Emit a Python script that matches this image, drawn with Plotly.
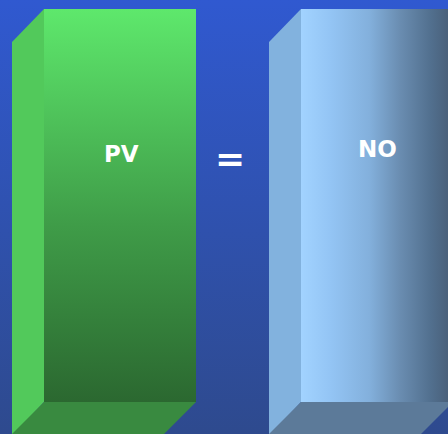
import plotly.graph_objects as go

# Two equal quantities compared side by side
categories = ["PV", "NO"]
values = [100, 100]
operator = "="

W, H = 448, 434
PX_PER_UNIT = 3.93      # vertical scale: data units -> axis units
BOX_LEFT = 44           # x of first box's back wall
BOX_STEP = 257          # distance between boxes
BOX_WIDTH = 152
DEPTH = 32              # oblique depth of the floor / side wall
FLOOR = 32              # y of back wall bottom

back_scales = [
    dict(type="vertical",
         colorscale=[[0, "#2b6830"], [0.45, "#3f9c48"], [1, "#5ee86c"]]),
    dict(type="horizontal",
         colorscale=[[0, "#a2d3ff"], [0.2, "#93c4f4"], [0.45, "#83b0dc"],
                     [0.65, "#6a8db1"], [0.85, "#52708f"], [1, "#475c75"]]),
]
side_colors = ["#52c95b", "#82b2de"]
floor_colors = ["#398a40", "#5c7a99"]
label_frac = [0.63, 0.645]

fig = go.Figure()

# background panel with vertical gradient
fig.add_trace(go.Scatter(
    x=[-5, W + 5, W + 5, -5, -5], y=[-5, -5, H + 5, H + 5, -5],
    mode="lines", line=dict(width=0),
    fill="toself",
    fillgradient=dict(type="vertical", start=0, stop=H,
                      colorscale=[[0, "#2e4a8e"], [1, "#3059d0"]]),
    hoverinfo="skip", showlegend=False))

annotations = []
for i, (cat, val) in enumerate(zip(categories, values)):
    x0 = BOX_LEFT + i * BOX_STEP
    x1 = x0 + BOX_WIDTH
    top = FLOOR + val * PX_PER_UNIT

    # back wall
    g = dict(back_scales[i])
    if g["type"] == "vertical":
        g.update(start=FLOOR, stop=top)
    else:
        g.update(start=x0, stop=x1)
    fig.add_trace(go.Scatter(
        x=[x0, x1, x1, x0, x0], y=[FLOOR, FLOOR, top, top, FLOOR],
        mode="lines", line=dict(width=0), fill="toself", fillgradient=g,
        hoverinfo="skip", showlegend=False))

    # left side wall
    fig.add_trace(go.Scatter(
        x=[x0 - DEPTH, x0, x0, x0 - DEPTH, x0 - DEPTH],
        y=[FLOOR - DEPTH - 2, FLOOR, top, top - DEPTH - 1, FLOOR - DEPTH - 2],
        mode="lines", line=dict(width=0), fill="toself",
        fillcolor=side_colors[i], hoverinfo="skip", showlegend=False))

    # floor
    fig.add_trace(go.Scatter(
        x=[x0 - DEPTH - 2, x1 - DEPTH - 2, x1, x0, x0 - DEPTH - 2],
        y=[FLOOR - DEPTH - 2, FLOOR - DEPTH - 2, FLOOR, FLOOR,
           FLOOR - DEPTH - 2],
        mode="lines", line=dict(width=0), fill="toself",
        fillcolor=floor_colors[i], hoverinfo="skip", showlegend=False))

    annotations.append(dict(
        x=(x0 + x1) / 2 + (1.5 if i == 0 else 0),
        y=FLOOR + val * PX_PER_UNIT * label_frac[i],
        text=f"<b>{cat}</b>", showarrow=False,
        font=dict(family="DejaVu Sans", size=23, color="white")))

# equality sign between the boxes
mid_x = (BOX_LEFT + BOX_WIDTH + BOX_LEFT + BOX_STEP - DEPTH) / 2 - 3
annotations.append(dict(
    x=mid_x, y=H - 158, text=f"<b>{operator}</b>", showarrow=False,
    font=dict(family="DejaVu Sans", size=36, color="white")))

fig.update_layout(
    width=W, height=H, margin=dict(l=0, r=0, t=0, b=0),
    paper_bgcolor="#2e4a8e", plot_bgcolor="#2e4a8e",
    xaxis=dict(range=[0, W], visible=False, fixedrange=True),
    yaxis=dict(range=[0, H], visible=False, fixedrange=True),
    annotations=annotations, showlegend=False)

fig.write_html(
    "out.html", config=dict(displayModeBar=False),
    post_script="document.body.style.margin='0';"
                "document.body.style.background='#2e4a8e';"
                "document.documentElement.style.background='#2e4a8e';")
